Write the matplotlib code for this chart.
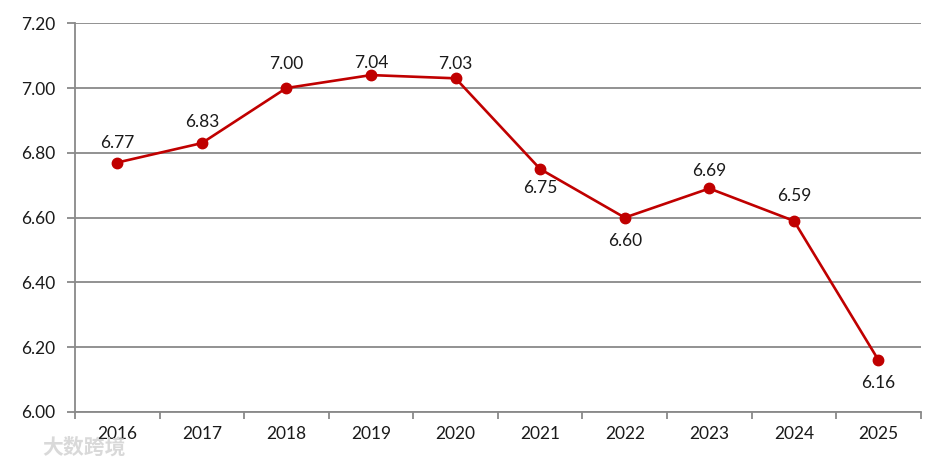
import matplotlib
matplotlib.use('Agg')
import matplotlib.pyplot as plt
import numpy as np

plt.rcParams['font.family'] = ['Lato', 'DejaVu Sans']

# data
years = ['2016', '2017', '2018', '2019', '2020', '2021', '2022', '2023', '2024', '2025']
values = [6.77, 6.83, 7.00, 7.04, 7.03, 6.75, 6.60, 6.69, 6.59, 6.16]

# label placement (points, + above / - below)
label_off = [14, 15.5, 17, 9, 10.5, -14, -16.5, 12.5, 18, -16.5]

grey = '#898989'
red = '#C00000'

fig = plt.figure(figsize=(9.44, 4.65), dpi=100)
ax = fig.add_axes([0.0794, 0.114, 0.896, 0.836])

x = np.arange(len(years))
ax.plot(x, values, color=red, lw=1.9, marker='o', ms=7.5, zorder=3)

for xi, v, off in zip(x, values, label_off):
    ax.annotate(f'{v:.2f}', (xi, v), xytext=(0, off), textcoords='offset points',
                ha='center', va='center', fontsize=12.5, color='#1a1a1a')

ax.set_xlim(-0.5, len(years) - 0.5)
ax.set_ylim(6.0, 7.2)
ax.set_yticks(np.arange(6.0, 7.21, 0.2))
ax.set_yticklabels([f'{t:.2f}' for t in np.arange(6.0, 7.21, 0.2)])
ax.set_xticks(x)
ax.set_xticklabels(years)
ax.set_xticks(np.arange(-0.5, len(years), 1), minor=True)

ax.grid(axis='y', color=grey, lw=1.3)
ax.set_axisbelow(True)
for s in ['top', 'right']:
    ax.spines[s].set_visible(False)
for s in ['left', 'bottom']:
    ax.spines[s].set_color(grey)
    ax.spines[s].set_linewidth(1.3)

ax.tick_params(axis='y', length=6, width=1.3, color=grey, labelsize=12.5, pad=8, labelcolor='#1a1a1a')
ax.tick_params(axis='x', which='major', length=0, labelsize=12.5, pad=10, labelcolor='#1a1a1a')
ax.tick_params(axis='x', which='minor', length=5, width=1.3, color=grey)

# watermark
fig.text(0.045, 0.025, '大数跨境', fontsize=15, color='#d0d0d0', alpha=0.8,
         family=['Noto Sans CJK SC', 'DejaVu Sans'], weight='bold', zorder=0)

fig.savefig('out.png', dpi=100)
